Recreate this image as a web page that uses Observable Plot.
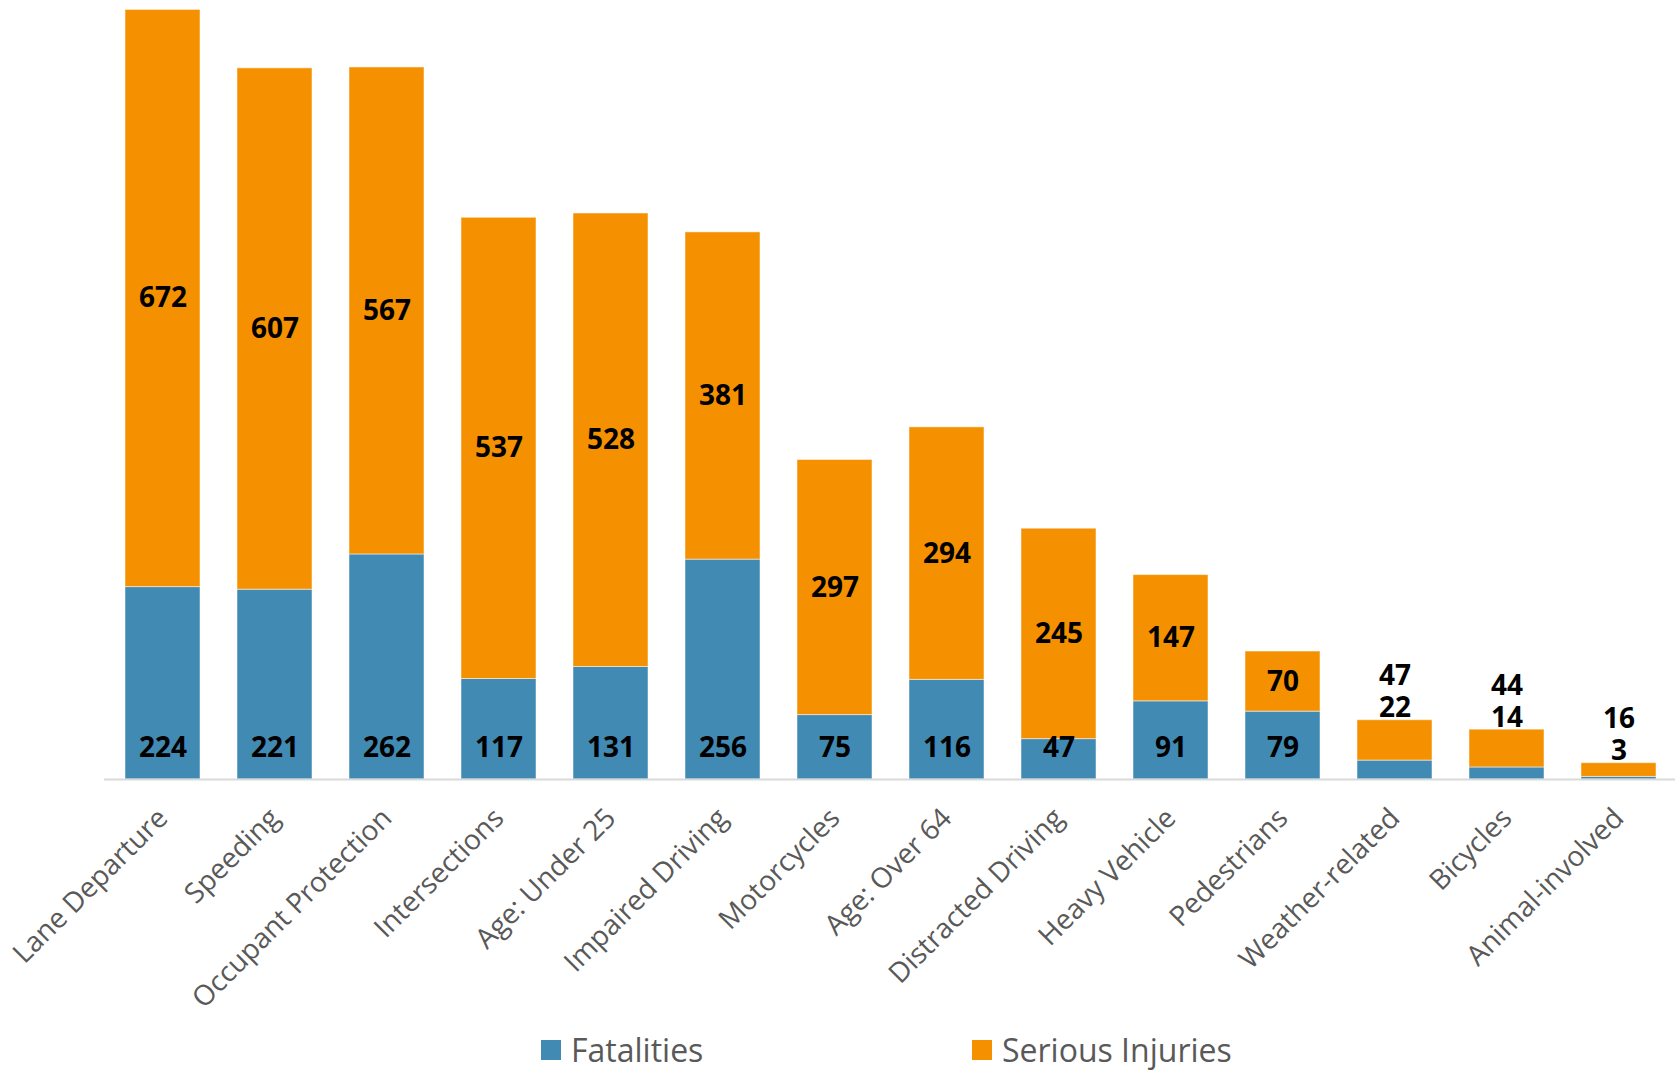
<!DOCTYPE html>
<html>
<head>
<meta charset="utf-8">
<script src="https://cdn.jsdelivr.net/npm/d3@7"></script>
<script src="https://cdn.jsdelivr.net/npm/@observablehq/plot@0.6"></script>
<style>
  body { margin: 0; background: #fff; }
  #wrap { position: relative; width: 1675px; height: 1074px; font-family: "Open Sans", sans-serif; }
  #chart svg { display: block; }
  .leg { position: absolute; top: 1028px; display: flex; align-items: center; font-size: 32px; color: #595959; line-height: 44px; }
  .leg .sw { width: 20px; height: 20px; margin-right: 10px; }
</style>
</head>
<body>
<div id="wrap">
  <div id="chart"></div>
  <div id="legend"></div>
</div>
<script>
const categories = ["Lane Departure", "Speeding", "Occupant Protection", "Intersections", "Age: Under 25",
  "Impaired Driving", "Motorcycles", "Age: Over 64", "Distracted Driving", "Heavy Vehicle",
  "Pedestrians", "Weather-related", "Bicycles", "Animal-involved"];
const fatalities = [224, 221, 262, 117, 131, 256, 75, 116, 47, 91, 79, 22, 14, 3];
const seriousInjuries = [672, 607, 567, 537, 528, 381, 297, 294, 245, 147, 70, 47, 44, 16];
const seriesNames = ["Fatalities", "Serious Injuries"];
const seriesColors = ["#418AB3", "#F59100"];
// categories whose labels sit above the bar
const labelsAbove = ["Weather-related", "Bicycles", "Animal-involved"];

const rows = [];
categories.forEach((c, i) => {
  rows.push({category: c, series: seriesNames[0], value: fatalities[i]});
  rows.push({category: c, series: seriesNames[1], value: seriousInjuries[i]});
});
const totals = categories.map((c, i) => ({
  category: c, f: fatalities[i], s: seriousInjuries[i], total: fatalities[i] + seriousInjuries[i],
  above: labelsAbove.includes(c)
}));
const inside = totals.filter(d => !d.above);
const above = totals.filter(d => d.above);

const labelStyle = {fontSize: 28, fontWeight: "bold", fill: "#000", fontFamily: "Open Sans"};

const chart = Plot.plot({
  width: 1675,
  height: 1026,
  marginLeft: 104,
  marginRight: 0,
  marginTop: 6,
  marginBottom: 247,
  style: {fontFamily: "Open Sans", background: "#fff"},
  x: {domain: categories, paddingInner: 1/3, paddingOuter: 1/6, range: [101, 1679], label: null},
  y: {domain: [0, 900], axis: null},
  color: {domain: seriesNames, range: seriesColors},
  marks: [
    Plot.barY(rows, {x: "category", y: "value", fill: "series", stroke: "#fff", strokeWidth: 1, strokeOpacity: 0.5}),
    Plot.ruleY([0], {stroke: "#d9d9d9", strokeWidth: 2}),
    Plot.axisX({tickRotate: -45, tickSize: 0, tickPadding: 34, fontSize: 28, fill: "#595959", label: null}),
    Plot.text(inside, {x: "category", y: 0, text: d => String(d.f), dy: -31, ...labelStyle}),
    Plot.text(inside, {x: "category", y: d => d.f + d.s / 2, text: d => String(d.s), ...labelStyle}),
    Plot.text(above, {x: "category", y: "total", text: d => String(d.f), dy: -12, ...labelStyle}),
    Plot.text(above, {x: "category", y: "total", text: d => String(d.s), dy: -44, ...labelStyle})
  ]
});
document.getElementById("chart").appendChild(chart);

const legend = document.getElementById("legend");
const legendLeft = [541, 972];
seriesNames.forEach((name, i) => {
  const item = document.createElement("div");
  item.className = "leg";
  item.style.left = legendLeft[i] + "px";
  item.innerHTML = `<span class="sw" style="background:${seriesColors[i]}"></span><span>${name}</span>`;
  legend.appendChild(item);
});
</script>
</body>
</html>
